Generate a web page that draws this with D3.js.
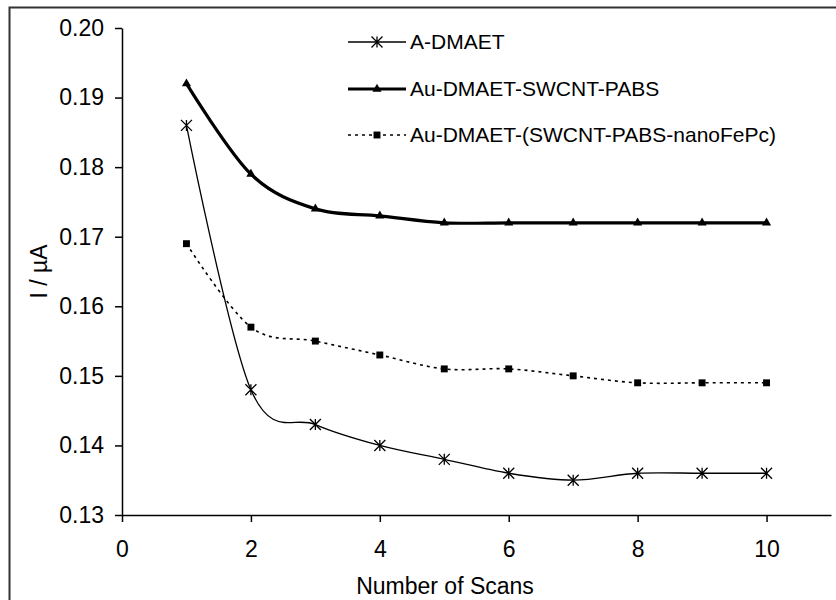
<!DOCTYPE html>
<html>
<head>
<meta charset="utf-8">
<script src="https://cdn.jsdelivr.net/npm/d3@7/dist/d3.min.js"></script>
<style>
  html, body { margin: 0; padding: 0; background: #fff; }
  svg { display: block; font-family: Arial, "Liberation Sans", sans-serif; }
</style>
</head>
<body>
<svg id="chart" width="836" height="600"></svg>
<script>
// Scan numbers and measured currents (µA) for each electrode
const scans = [1, 2, 3, 4, 5, 6, 7, 8, 9, 10];
const aDmaet = [0.186, 0.148, 0.143, 0.140, 0.138, 0.136, 0.135, 0.136, 0.136, 0.136];
const swcntPabs = [0.192, 0.179, 0.174, 0.173, 0.172, 0.172, 0.172, 0.172, 0.172, 0.172];
const swcntPabsFePc = [0.169, 0.157, 0.155, 0.153, 0.151, 0.151, 0.150, 0.149, 0.149, 0.149];
const seriesNames = ["A-DMAET", "Au-DMAET-SWCNT-PABS", "Au-DMAET-(SWCNT-PABS-nanoFePc)"];
const xTicks = [0, 2, 4, 6, 8, 10];
const yTicks = [0.13, 0.14, 0.15, 0.16, 0.17, 0.18, 0.19, 0.20];

const svg = d3.select("#chart");

// Frame around the whole chart
svg.append("rect")
  .attr("x", 9.5).attr("y", 7.5)
  .attr("width", 840).attr("height", 610)
  .attr("fill", "none").attr("stroke", "#333").attr("stroke-width", 2);

const x = d3.scaleLinear().domain([0, 11]).range([122, 831]);
const y = d3.scaleLinear().domain([0.13, 0.20]).range([515, 28]);

// Axes
const xAxis = svg.append("g")
  .attr("transform", `translate(0,${y(0.13)})`)
  .call(d3.axisBottom(x).tickValues(xTicks).tickFormat(d3.format("d")).tickSize(7).tickPadding(19).tickSizeOuter(0));
const yAxis = svg.append("g")
  .attr("transform", `translate(${x(0)},0)`)
  .call(d3.axisLeft(y).tickValues(yTicks).tickFormat(d3.format(".2f")).tickSize(7).tickPadding(11).tickSizeOuter(0));
[xAxis, yAxis].forEach(g => {
  g.selectAll("path, line").attr("stroke", "#000").attr("stroke-width", 1.5);
  g.selectAll("text").attr("fill", "#000").attr("font-size", 23).attr("font-family", "Arial, 'Liberation Sans', sans-serif");
});

// Axis titles
svg.append("text")
  .attr("x", 445).attr("y", 594)
  .attr("text-anchor", "middle").attr("font-size", 23).attr("fill", "#000")
  .text("Number of Scans");
svg.append("text")
  .attr("transform", `translate(47,${(y(0.13) + y(0.20)) / 2}) rotate(-90)`)
  .attr("text-anchor", "middle").attr("font-size", 23).attr("fill", "#000")
  .text("I / µA");

// Marker shapes
const triangle = d3.symbol().type(d3.symbolTriangle).size(36);
const square = d3.symbol().type(d3.symbolSquare).size(48);

const series = [
  { name: seriesNames[0], values: aDmaet, width: 1.3, dash: null, marker: "asterisk" },
  { name: seriesNames[1], values: swcntPabs, width: 3.2, dash: null, marker: "triangle" },
  { name: seriesNames[2], values: swcntPabsFePc, width: 1.6, dash: "3,4", marker: "square" }
];

function drawMarker(g, kind, cx, cy) {
  if (kind === "asterisk") {
    const s = 5.5;
    const p = d3.path();
    p.moveTo(cx - s, cy - s); p.lineTo(cx + s, cy + s);
    p.moveTo(cx - s, cy + s); p.lineTo(cx + s, cy - s);
    p.moveTo(cx, cy - s); p.lineTo(cx, cy + s);
    g.append("path").attr("d", p.toString()).attr("stroke", "#000").attr("stroke-width", 1.3).attr("fill", "none");
  } else if (kind === "triangle") {
    g.append("path").attr("d", triangle()).attr("transform", `translate(${cx},${cy})`).attr("fill", "#000");
  } else {
    g.append("path").attr("d", square()).attr("transform", `translate(${cx},${cy})`).attr("fill", "#000");
  }
}

const line = d3.line().curve(d3.curveCardinal.tension(0)).x(d => x(d[0])).y(d => y(d[1]));

series.forEach(s => {
  const pts = scans.map((sc, i) => [sc, s.values[i]]);
  svg.append("path")
    .attr("d", line(pts))
    .attr("fill", "none").attr("stroke", "#000")
    .attr("stroke-width", s.width)
    .attr("stroke-dasharray", s.dash);
  const mg = svg.append("g");
  pts.forEach(p => drawMarker(mg, s.marker, x(p[0]), y(p[1])));
});

// Legend
const legendY = [42, 89, 135];
series.forEach((s, i) => {
  const g = svg.append("g");
  g.append("line")
    .attr("x1", 348).attr("x2", 406).attr("y1", legendY[i]).attr("y2", legendY[i])
    .attr("stroke", "#000").attr("stroke-width", s.width).attr("stroke-dasharray", s.dash);
  drawMarker(g, s.marker, 377, legendY[i]);
  g.append("text")
    .attr("x", 410).attr("y", legendY[i] + 7)
    .attr("font-size", 21).attr("fill", "#000")
    .text(s.name);
});
</script>
</body>
</html>
